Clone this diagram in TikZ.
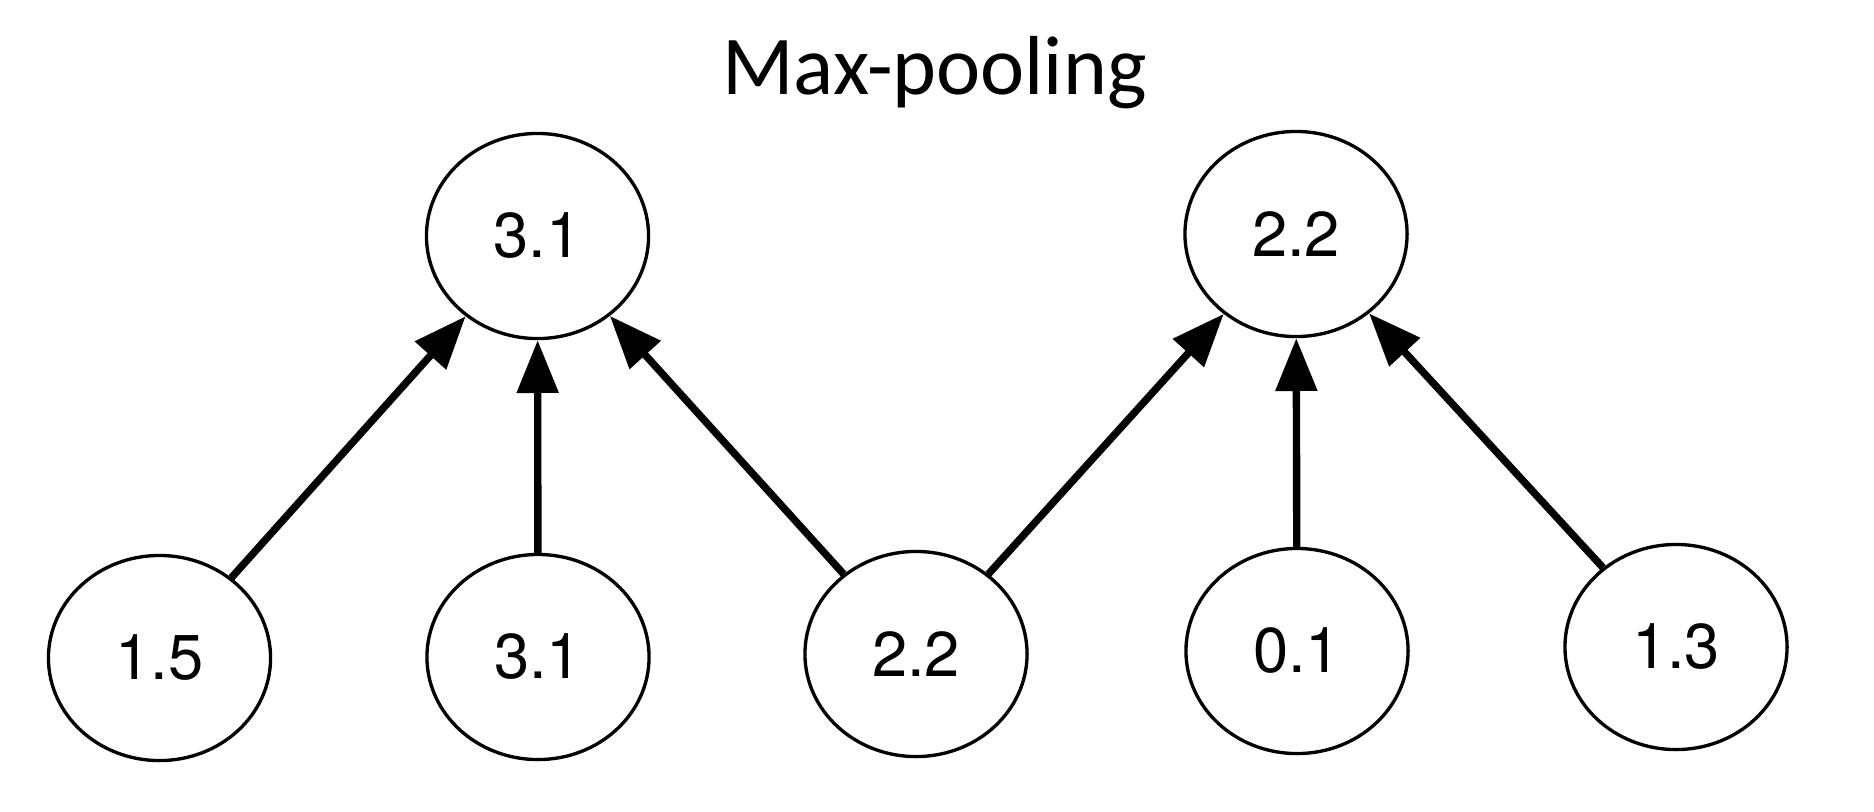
\documentclass[tikz,border=0pt]{standalone}
\usepackage{fontspec}
\setmainfont{TeX Gyre Heros}
\newfontfamily\titlefont{Carlito}
\usetikzlibrary{shapes.geometric,arrows.meta}
\tikzset{
  valnode/.style={ellipse, draw=black, line width=0.95pt, minimum width=2.22cm, minimum height=2.05cm, inner sep=0pt, font=\fontsize{18}{20}\selectfont},
  poolarrow/.style={line width=2.1pt, -{Triangle[length=15pt,width=11.5pt]}},
  titletext/.style={font=\titlefont\fontsize{23.8}{28}\selectfont, inner sep=0pt, anchor=base}
}
\begin{document}
\begin{tikzpicture}[x=0.01cm,y=-0.01cm]
\useasboundingbox (0,0) rectangle (1874,811);
\node[titletext] (title) at (934.5,94) {Max-pooling};
\node[valnode] (t1) at (537.5,236) {3.1};
\node[valnode] (t2) at (1296,234) {2.2};
\node[valnode] (b1) at (159.5,658) {1.5};
\node[valnode] (b2) at (538,657) {3.1};
\node[valnode] (b3) at (916,654) {2.2};
\node[valnode] (b4) at (1297,651) {0.1};
\node[valnode] (b5) at (1676,647) {1.3};
\draw[poolarrow] (b1) -- (t1);
\draw[poolarrow] (b2) -- (t1);
\draw[poolarrow] (b3) -- (t1);
\draw[poolarrow] (b3) -- (t2);
\draw[poolarrow] (b4) -- (t2);
\draw[poolarrow] (b5) -- (t2);
\end{tikzpicture}
\end{document}
